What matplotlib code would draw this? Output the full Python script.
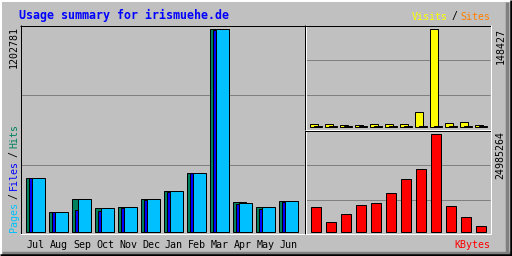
import matplotlib
matplotlib.use("Agg")
import matplotlib.pyplot as plt
import numpy as np

# monthly usage data
months = ["Jul", "Aug", "Sep", "Oct", "Nov", "Dec", "Jan", "Feb", "Mar", "Apr", "May", "Jun"]
hits = [320000, 118500, 195500, 142200, 148100, 197300, 244700, 349600, 1202781, 177750, 148100, 183700]
files = [318000, 116700, 130400, 126200, 142200, 191400, 238800, 347800, 1199000, 165900, 138000, 177750]
pages = [319000, 118000, 195000, 142000, 147800, 197000, 244000, 349000, 1201000, 171800, 147800, 183500]
visits = [4540, 4540, 3030, 3030, 4540, 4540, 4540, 22700, 148427, 6060, 7570, 3030]
sites = [1200, 1100, 900, 1000, 1100, 1050, 1150, 1300, 1400, 1250, 1300, 1000]
kbytes = [6450000, 2626000, 4666000, 6960000, 7470000, 10020000, 13590000, 16140000,
          24985264, 6705000, 3900000, 1606000]

title = "Usage summary for irismuehe.de"

# colours
BG = "#c0c0c0"
GRID = "#808080"
C_HITS = "#00805c"
C_FILES = "#0000ff"
C_PAGES = "#00c0ff"
C_VISITS = "#ffff00"
C_SITES = "#ff8000"
C_KB = "#ff0000"

W, H = 512, 256
fig = plt.figure(figsize=(W / 100, H / 100), dpi=100, facecolor=BG)

# base axes in pixel coordinates for the frame and labels
base = fig.add_axes([0, 0, 1, 1])
base.set_xlim(0, W)
base.set_ylim(H, 0)
base.axis("off")

LW = 0.72  # one pixel


def hline(y, x0, x1, c, lw=LW):
    base.plot([x0, x1], [y, y], color=c, lw=lw, solid_capstyle="butt")


def vline(x, y0, y1, c, lw=LW):
    base.plot([x, x], [y0, y1], color=c, lw=lw, solid_capstyle="butt")


# outer bevel
hline(1, 0, W, "white", lw=1.44)
vline(1, 0, H, "white", lw=1.44)
hline(252.5, 2, W, GRID, lw=2.5)
vline(507, 2, H, GRID, lw=2.5)
hline(255, 0, W, "black", lw=1.8)
vline(510.5, 0, H, "black", lw=1.8)

# gridlines
for y in (95, 165):
    hline(y, 21, 304, GRID)
for y in (60, 95, 165, 200):
    hline(y, 306, 490, GRID)

# panel borders (sunken)
hline(25.5, 20, 305, "black")
vline(20.5, 25, 234, "black")
hline(233.8, 20, 305, "white")
vline(304.5, 25, 234, "black")
vline(305.5, 25, 234, "white")
hline(25.5, 305, 491, "black")
hline(129.5, 305, 491, "white")
hline(130.5, 305, 491, "black")
hline(233.8, 305, 491, "white")
vline(490.8, 25, 234, "white")

# panel axes, data coordinates line up with the pixel grid
def panel(px0, px1, py0, py1):
    ax = fig.add_axes([px0 / W, 1 - py1 / H, (px1 - px0) / W, (py1 - py0) / H])
    ax.patch.set_alpha(0)
    ax.axis("off")
    return ax


x = np.arange(len(months))

# left: hits / files / pages
axl = panel(20, 305, 25, 234)
mx = max(hits)
axl.set_xlim((20 - 26) / 23, (305 - 26) / 23)
axl.set_ylim((232 - 234) * mx / 203, (232 - 25) * mx / 203)
bw = 13 / 23
axl.bar(x, hits, width=bw, align="edge", color=C_HITS, edgecolor="black", lw=LW)
axl.bar(x + 3 / 23, files, width=bw, align="edge", color=C_FILES, edgecolor="black", lw=LW)
axl.bar(x + 6 / 23, pages, width=bw, align="edge", color=C_PAGES, edgecolor="black", lw=LW)

# right top: visits / sites
axv = panel(305, 491, 25, 129)
mv = max(visits)
axv.set_xlim((305 - 310) / 15, (491 - 310) / 15)
axv.set_ylim((127 - 129) * mv / 98, (127 - 25) * mv / 98)
axv.bar(x, visits, width=8 / 15, align="edge", color=C_VISITS, edgecolor="black", lw=LW)
axv.bar(x + 4 / 15, sites, width=8 / 15, align="edge", color=C_SITES, edgecolor="black", lw=LW)

# right bottom: kbytes
axk = panel(305, 491, 130, 234)
mk = max(kbytes)
axk.set_xlim((305 - 310) / 15, (491 - 310) / 15)
axk.set_ylim((232 - 234) * mk / 98, (232 - 130) * mk / 98)
axk.bar(x + 1 / 15, kbytes, width=10 / 15, align="edge", color=C_KB, edgecolor="black", lw=LW)

# texts
mono = "DejaVu Sans Mono"
FS = 7.2
base.text(19, 15, title, color="#0000ff", fontsize=8.4, family=mono,
          fontweight="bold", ha="left", va="center")

base.text(412, 16.5, "Visits", color=C_VISITS, fontsize=FS, family=mono, ha="left", va="center")
base.text(454, 16.5, "/", color="black", fontsize=FS, family=mono, ha="center", va="center")
base.text(490, 16.5, "Sites", color=C_SITES, fontsize=FS, family=mono, ha="right", va="center")
base.text(490, 245.5, "KBytes", color=C_KB, fontsize=FS, family=mono, ha="right", va="center")

for i, m in enumerate(months):
    base.text(36 + 23 * i, 244.5, m, color="black", fontsize=FS, family=mono,
              ha="center", va="center")

# vertical labels
base.text(14, 68, str(max(hits)), rotation=90, color="black", fontsize=FS, family=mono,
          ha="center", va="bottom")
base.text(500.5, 64, str(max(visits)), rotation=90, color="black", fontsize=FS, family=mono,
          ha="center", va="bottom")
base.text(500.5, 179, str(max(kbytes)), rotation=90, color="black", fontsize=FS, family=mono,
          ha="center", va="bottom")

legend = [("Pages", C_PAGES, 232), ("/", "black", 199), ("Files", C_FILES, 190),
          ("/", "black", 157), ("Hits", C_HITS, 148)]
for s, c, y in legend:
    base.text(14, y, s, rotation=90, color=c, fontsize=FS, family=mono,
              ha="center", va="bottom")

fig.savefig("out.png", dpi=100, facecolor=BG)
